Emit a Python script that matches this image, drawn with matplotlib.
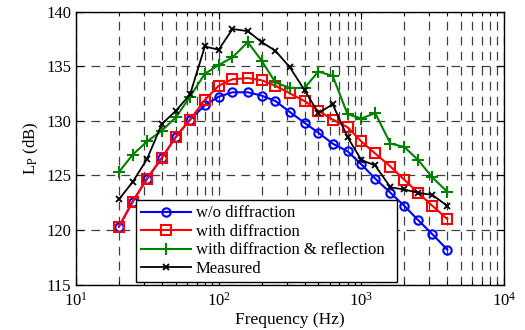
import matplotlib
matplotlib.use("Agg")
import matplotlib.pyplot as plt
from matplotlib.ticker import LogLocator, MultipleLocator, NullFormatter

plt.rcParams['font.family'] = ['Liberation Serif', 'DejaVu Serif']
plt.rcParams['mathtext.fontset'] = 'stix'

freq = [20, 25, 31.5, 40, 50, 63, 80, 100, 125, 160, 200, 250, 315, 400,
        500, 630, 800, 1000, 1250, 1600, 2000, 2500, 3150, 4000]

wo_diffraction = [120.3, 122.6, 124.7, 126.6, 128.5, 130.1, 131.4, 132.2, 132.6, 132.6,
                  132.3, 131.8, 130.8, 129.8, 128.9, 127.9, 127.2, 126.0, 124.7, 123.4,
                  122.2, 120.9, 119.6, 118.2]
with_diffraction = [120.3, 122.6, 124.7, 126.6, 128.5, 130.1, 131.9, 133.2, 133.8, 133.9,
                    133.7, 133.2, 132.5, 131.8, 130.9, 130.1, 129.4, 128.1, 127.0, 125.8,
                    124.6, 123.4, 122.2, 121.0]
with_diff_refl = [125.3, 126.9, 128.1, 129.1, 130.3, 132.2, 134.3, 135.1, 135.8, 137.2,
                  135.5, 133.5, 133.0, 133.0, 134.5, 134.1, 130.6, 130.2, 130.7, 127.9,
                  127.6, 126.4, 124.8, 123.5]
measured = [122.8, 124.4, 126.5, 129.7, 130.9, 132.4, 136.8, 136.5, 138.4, 138.2,
            137.2, 136.4, 134.9, 132.8, 130.7, 131.5, 128.5, 126.4, 125.9, 123.9,
            123.7, 123.4, 123.2, 122.2]

labels = ['w/o diffraction', 'with diffraction',
          'with diffraction & reflection', 'Measured']

fig = plt.figure(figsize=(5.25, 3.3), dpi=100)
ax = fig.add_axes([76/525, 1 - 284.5/330, (504-76)/525, (284.5-11.5)/330])

ax.plot(freq, wo_diffraction, color='#0000ff', lw=1.5, marker='o', ms=6,
        mfc='none', mew=1.5, label=labels[0])
ax.plot(freq, with_diffraction, color='#ff0000', lw=1.5, marker='s', ms=7,
        mfc='none', mew=1.5, label=labels[1])
ax.plot(freq, with_diff_refl, color='#008000', lw=1.5, marker='+', ms=8,
        mew=1.5, label=labels[2])
ax.plot(freq, measured, color='black', lw=1.3, marker='x', ms=4,
        mew=1.3, label=labels[3])

ax.set_xscale('log')
ax.set_xlim(10, 10000)
ax.set_ylim(115, 140)
ax.yaxis.set_major_locator(MultipleLocator(5))
ax.xaxis.set_major_locator(LogLocator(base=10, numticks=10))
ax.xaxis.set_minor_locator(LogLocator(base=10, subs=range(2, 10), numticks=20))
ax.xaxis.set_minor_formatter(NullFormatter())

ax.grid(True, which='major', axis='both', color='black', ls=(0, (7, 5)), lw=0.9, alpha=0.75)
ax.grid(True, which='minor', axis='x', color='black', ls=(0, (7, 5)), lw=0.9, alpha=0.75)
ax.set_axisbelow(True)

ax.tick_params(which='both', direction='in', top=True, right=True, labelsize=12)
ax.tick_params(which='major', length=5)
ax.tick_params(which='minor', length=3)
ax.tick_params(axis='x', pad=5)
for s in ax.spines.values():
    s.set_linewidth(1.0)

ax.set_xlabel('Frequency (Hz)', fontsize=12.5, labelpad=2)
ax.set_ylabel(r'L$_\mathrm{P}$ (dB)', fontsize=12, labelpad=4)

leg = ax.legend(loc='lower left', bbox_to_anchor=((136-76)/428, (284.5-282)/273, (397-136)/428, (282-200)/273),
                mode='expand', fontsize=12, frameon=True, fancybox=False,
                edgecolor='black', framealpha=1, borderpad=0.3, labelspacing=0.15,
                handlelength=3.0, handletextpad=0.3, borderaxespad=0)
leg.get_frame().set_linewidth(1.0)

fig.savefig('out.png', dpi=100)
